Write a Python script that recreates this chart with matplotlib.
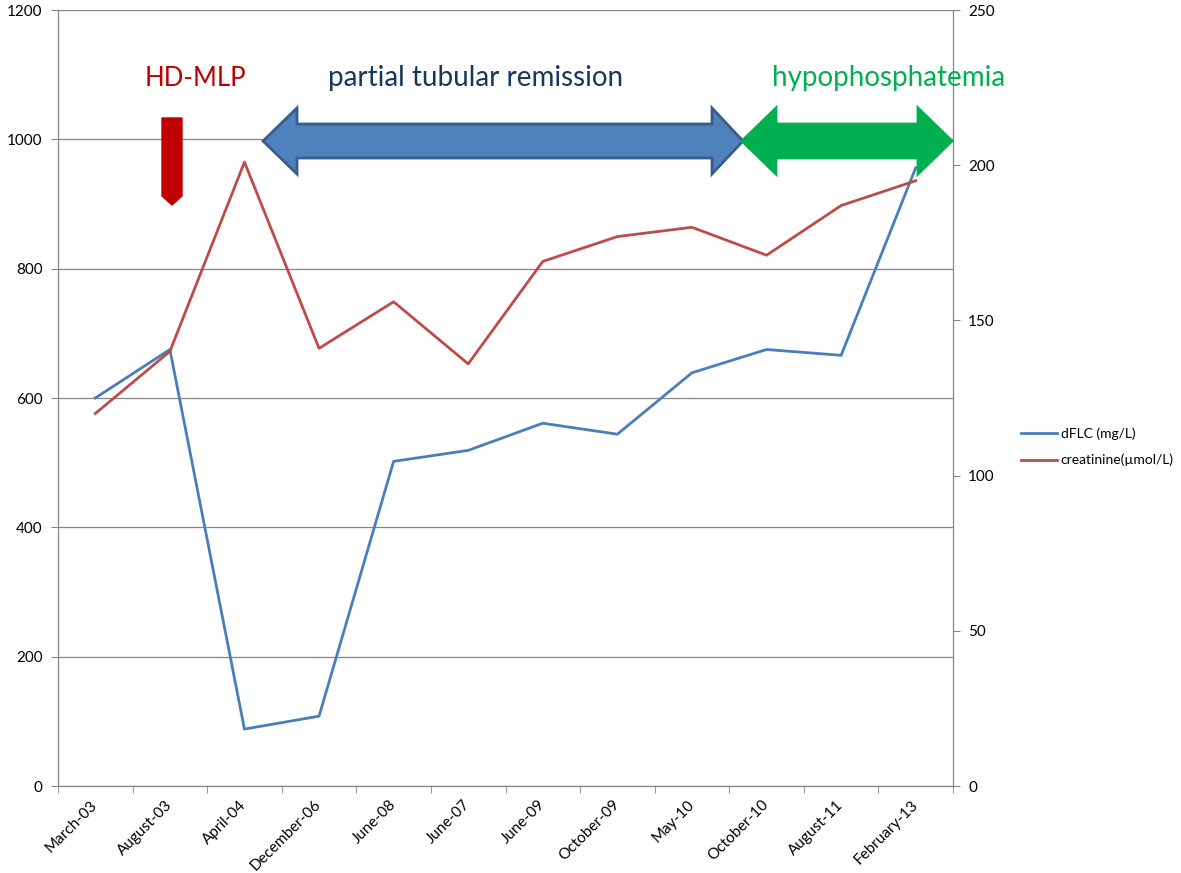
import matplotlib.pyplot as plt
from matplotlib.patches import Polygon
from matplotlib.transforms import Affine2D

plt.rcParams['font.family'] = ['Lato', 'DejaVu Sans']

months = ['March-03', 'August-03', 'April-04', 'December-06', 'June-08', 'June-07',
          'June-09', 'October-09', 'May-10', 'October-10', 'August-11', 'February-13']
dflc = [600, 675, 88, 108, 502, 519, 561, 544, 639, 675, 666, 956]
creat = [120, 140, 201, 141, 156, 136, 169, 177, 180, 171, 187, 195]

W, H = 1181, 873
fig = plt.figure(figsize=(W / 100, H / 100), dpi=100)
ax = fig.add_axes([58 / W, 1 - 786 / H, (953 - 58) / W, (786 - 10) / H])
ax2 = ax.twinx()

x = list(range(len(months)))
l1, = ax.plot(x, dflc, color='#4A7EBB', lw=2, label='dFLC (mg/L)')
l2, = ax2.plot(x, creat, color='#BE4B48', lw=2, label='creatinine(µmol/L)')

gray = '#868686'
ax.set_xlim(-0.5, len(months) - 0.5)
ax.set_ylim(0, 1200)
ax.set_yticks(range(0, 1201, 200))
ax2.set_ylim(0, 250)
ax2.set_yticks(range(0, 251, 50))
ax.grid(axis='y', color=gray, lw=0.9)
ax.set_axisbelow(True)

ax.set_xticks(x)
ax.set_xticklabels(months, rotation=45, ha='right', va='center', rotation_mode='anchor')
ax.set_xticks([i - 0.5 for i in range(len(months) + 1)], minor=True)
ax.tick_params(axis='x', which='major', length=0, pad=12, labelsize=11, colors='black')
ax.tick_params(axis='x', which='minor', length=5, color=gray)
ax.tick_params(axis='y', length=5, color=gray, labelsize=11, pad=6)
ax2.tick_params(axis='y', length=5, color=gray, labelsize=11, pad=6)
for a in (ax, ax2):
    a.spines['top'].set_visible(False)
    for s in ('left', 'right', 'bottom'):
        a.spines[s].set_color(gray)

fig.legend(handles=[l1, l2], loc='center left', bbox_to_anchor=(1008 / W, 1 - 447 / H),
           frameon=False, fontsize=10, handlelength=2.6, handletextpad=0.3,
           labelspacing=1.0)

# annotation shapes drawn in pixel coordinates (top-left origin)
px = Affine2D().scale(1 / W, -1 / H).translate(0, 1) + fig.transFigure


def double_arrow(x0, x1, hb0, hb1, yc, head, shaft, fc, ec):
    pts = [(x0, yc), (hb0, yc - head), (hb0, yc - shaft), (hb1, yc - shaft),
           (hb1, yc - head), (x1, yc), (hb1, yc + head), (hb1, yc + shaft),
           (hb0, yc + shaft), (hb0, yc + head)]
    fig.patches.append(Polygon(pts, closed=True, transform=px, fc=fc, ec=ec, lw=2))


double_arrow(263, 743, 297, 712, 141, 33, 17, '#4F81BD', '#385D8A')
double_arrow(742, 952, 776, 918, 141, 33, 17, '#00B050', '#00B050')
fig.patches.append(Polygon([(162, 118), (182, 118), (182, 196), (172, 205), (162, 196)],
                           closed=True, transform=px, fc='#C00000', ec='#C00000'))

fig.text(195, 78, 'HD-MLP', transform=px, color='#C00000', fontsize=18.5,
         ha='center', va='center')
fig.text(476, 78, 'partial tubular remission', transform=px, color='#17375E',
         fontsize=20, ha='center', va='center')
fig.text(889, 78, 'hypophosphatemia', transform=px, color='#00B050', fontsize=20,
         ha='center', va='center')

fig.savefig('out.png', dpi=100)
